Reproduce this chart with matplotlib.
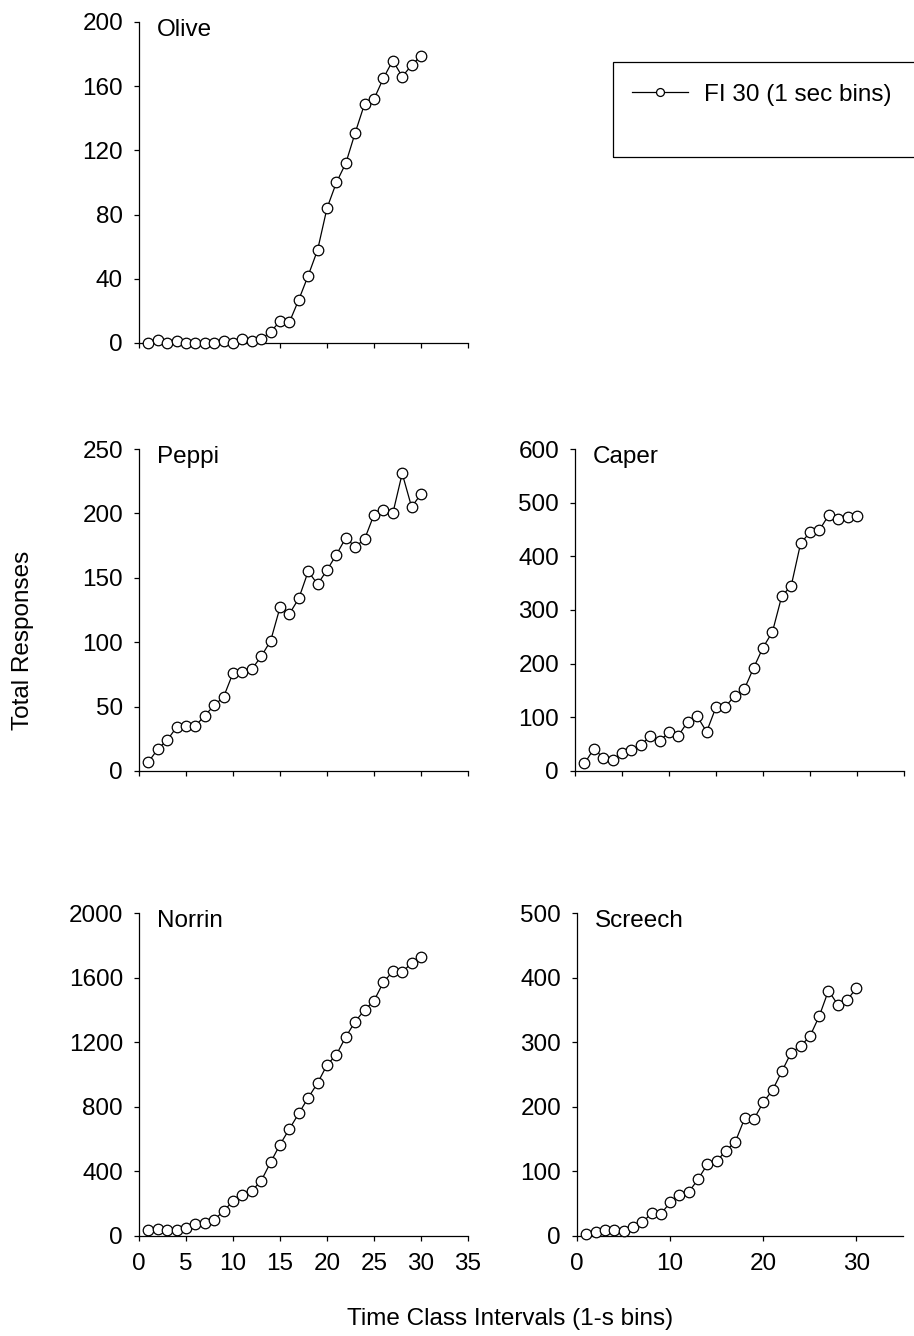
import matplotlib
matplotlib.use("Agg")
import matplotlib.pyplot as plt
from matplotlib.patches import Rectangle
from matplotlib.ticker import MultipleLocator, NullFormatter

plt.rcParams['font.family'] = ['Liberation Sans', 'DejaVu Sans']

# Cumulative responses per 1-s bin of the FI 30 interval
bins = list(range(1, 31))
olive = [0, 2, 0, 1, 0, 0, 0, 0, 1, 0, 2.5, 1, 2.5, 7, 13.5, 13, 27, 42, 58, 84,
         100, 112, 131, 149, 152, 165, 176, 166, 173, 179]
peppi = [7, 17, 24, 34, 35, 35, 43, 51, 57.5, 76, 77, 79, 89, 101, 127, 122, 134,
         155, 145, 156, 168, 181, 174, 180, 199, 203, 200, 231, 205, 215]
caper = [14, 41, 25, 20, 34, 40, 48, 65, 56, 72, 66, 92, 102, 73, 119, 120, 140,
         152, 192, 230, 259, 326, 345, 424, 445, 449, 477, 470, 473, 476]
norrin = [37, 46, 37, 37, 50, 75, 81, 100, 155, 216, 255, 280, 342, 456, 566, 663,
          759, 856, 947, 1059, 1123, 1233, 1328, 1399, 1457, 1571, 1639, 1633,
          1691, 1726]
screech = [2.5, 6, 10, 10, 8, 14, 21, 35, 34, 52, 63, 68, 88, 111, 116, 132, 146,
           182, 181, 207, 226, 255, 284, 294, 309, 340, 380, 358, 365, 384]

names = ['Olive', 'Peppi', 'Caper', 'Norrin', 'Screech']
series = [olive, peppi, caper, norrin, screech]
y_max = [200, 250, 600, 2000, 500]
y_step = [40, 50, 100, 400, 100]
x_step = [5, 5, 5, 5, 10]
x_labelled = [False, False, False, True, True]

W, H = 914, 1336
FS = 17.5

# panel boxes in pixels: left, top, right, bottom
boxes = [(139, 22, 468, 343),
         (139, 449, 468, 771),
         (575, 449, 904, 771),
         (139, 913, 468, 1236),
         (577, 913, 903, 1236)]

fig = plt.figure(figsize=(W / 100, H / 100), dpi=100)

line = None
for name, ys, top, ystep, xstep, lab, (l, t, r, b) in zip(
        names, series, y_max, y_step, x_step, x_labelled, boxes):
    ax = fig.add_axes([l / W, 1 - b / H, (r - l) / W, (b - t) / H])
    line, = ax.plot(bins, ys, color='black', lw=0.9, marker='o', markersize=7.6,
                    markerfacecolor='white', markeredgecolor='black',
                    markeredgewidth=0.9, clip_on=False, zorder=3,
                    label='FI 30 (1 sec bins)')
    ax.set_xlim(0, 35)
    ax.set_ylim(0, top)
    ax.xaxis.set_major_locator(MultipleLocator(xstep))
    ax.yaxis.set_major_locator(MultipleLocator(ystep))
    if not lab:
        ax.xaxis.set_major_formatter(NullFormatter())
    for s in ['top', 'right']:
        ax.spines[s].set_visible(False)
    for s in ['left', 'bottom']:
        ax.spines[s].set_linewidth(0.9)
    ax.tick_params(axis='both', direction='out', length=3.5, width=0.9,
                   labelsize=FS, colors='black')
    ax.tick_params(axis='y', pad=8)
    ax.tick_params(axis='x', pad=9)
    ax.annotate(name, xy=(0, 1), xycoords='axes fraction', xytext=(13, 2),
                textcoords='offset points', ha='left', va='top', fontsize=FS)

fig.text(23 / W, 1 - 640 / H, 'Total Responses', rotation=90, ha='center',
         va='center', fontsize=FS)
fig.text(510 / W, 1 - 1319 / H, 'Time Class Intervals (1-s bins)', ha='center',
         va='center', fontsize=FS)

# legend box, running off the right edge
fig.patches.append(Rectangle((613 / W, 1 - 157 / H), 320 / W, 95 / H,
                             transform=fig.transFigure, fill=False,
                             edgecolor='black', lw=0.9))
fig.legend(handles=[line], loc='center left',
           bbox_to_anchor=(632 / W, 1 - 95 / H), frameon=False, borderpad=0,
           borderaxespad=0, handlelength=2.3, handletextpad=0.65,
           markerscale=0.75, fontsize=FS)

fig.savefig('out.png', dpi=100)
